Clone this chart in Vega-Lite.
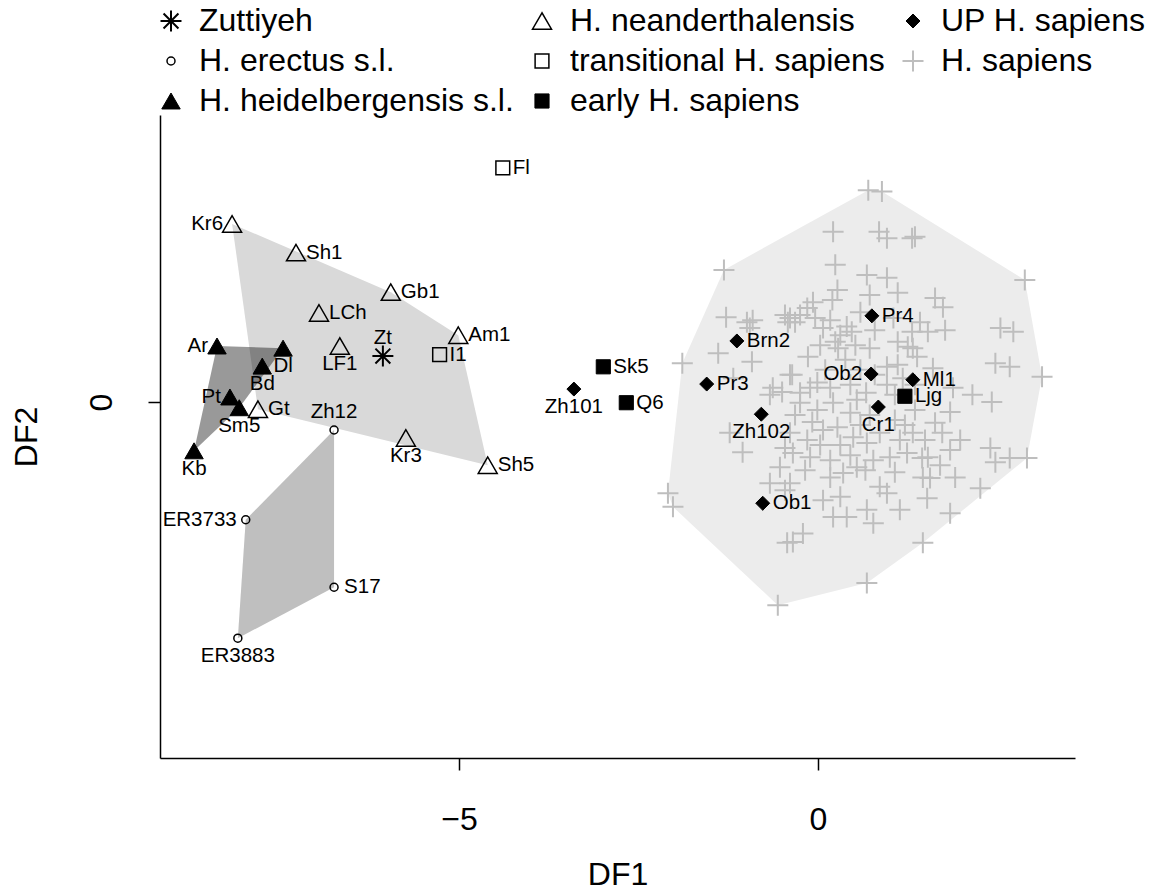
{
  "$schema": "https://vega.github.io/schema/vega-lite/v6.json",
  "width": 915,
  "height": 643,
  "autosize": {"type": "none"},
  "padding": {"left": 160, "top": 115, "right": 81, "bottom": 132},
  "background": "white",
  "config": {
    "view": {"stroke": null},
    "font": "Liberation Sans",
    "axis": {
      "grid": false,
      "domainColor": "black",
      "tickColor": "black",
      "domainWidth": 1.5,
      "tickWidth": 1.5,
      "tickSize": 12,
      "labelColor": "black",
      "titleColor": "black",
      "labelFont": "Liberation Sans",
      "titleFont": "Liberation Sans",
      "labelFontSize": 32,
      "titleFontSize": 32,
      "titleFontWeight": "normal"
    }
  },
  "datasets": {
    "hulls": [
      {"hull": "sap", "v": 1, "df1": -1.31, "df2": 1.84},
      {"hull": "sap", "v": 2, "df1": 0.70, "df2": 2.95},
      {"hull": "sap", "v": 3, "df1": 0.89, "df2": 2.93},
      {"hull": "sap", "v": 4, "df1": 2.88, "df2": 1.70},
      {"hull": "sap", "v": 5, "df1": 3.12, "df2": 0.35},
      {"hull": "sap", "v": 6, "df1": 2.91, "df2": -0.78},
      {"hull": "sap", "v": 7, "df1": 1.46, "df2": -1.96},
      {"hull": "sap", "v": 8, "df1": 0.68, "df2": -2.52},
      {"hull": "sap", "v": 9, "df1": -0.56, "df2": -2.83},
      {"hull": "sap", "v": 10, "df1": -2.02, "df2": -1.46},
      {"hull": "sap", "v": 11, "df1": -2.09, "df2": -1.27},
      {"hull": "sap", "v": 12, "df1": -1.89, "df2": 0.54},
      {"hull": "nean", "v": 1, "df1": -8.16, "df2": 2.48},
      {"hull": "nean", "v": 2, "df1": -5.95, "df2": 1.53},
      {"hull": "nean", "v": 3, "df1": -5.01, "df2": 0.93},
      {"hull": "nean", "v": 4, "df1": -4.60, "df2": -0.88},
      {"hull": "nean", "v": 5, "df1": -7.80, "df2": -0.10},
      {"hull": "erec", "v": 1, "df1": -6.74, "df2": -0.39},
      {"hull": "erec", "v": 2, "df1": -6.74, "df2": -2.58},
      {"hull": "erec", "v": 3, "df1": -8.08, "df2": -3.29},
      {"hull": "erec", "v": 4, "df1": -7.97, "df2": -1.64},
      {"hull": "heid", "v": 1, "df1": -8.37, "df2": 0.78},
      {"hull": "heid", "v": 2, "df1": -7.45, "df2": 0.75},
      {"hull": "heid", "v": 3, "df1": -8.06, "df2": -0.08},
      {"hull": "heid", "v": 4, "df1": -8.69, "df2": -0.68}
    ],
    "specimens": [
      {"group": "H. sapiens", "df1": -1.31, "df2": 1.84},
      {"group": "H. sapiens", "df1": -1.28, "df2": 1.18},
      {"group": "H. sapiens", "df1": -0.99, "df2": 1.11},
      {"group": "H. sapiens", "df1": -0.91, "df2": 1.14},
      {"group": "H. sapiens", "df1": -0.95, "df2": 1.03},
      {"group": "H. sapiens", "df1": -0.46, "df2": 1.21},
      {"group": "H. sapiens", "df1": -0.42, "df2": 1.11},
      {"group": "H. sapiens", "df1": -1.39, "df2": 0.68},
      {"group": "H. sapiens", "df1": -0.92, "df2": 0.56},
      {"group": "H. sapiens", "df1": -1.89, "df2": 0.54},
      {"group": "H. sapiens", "df1": -1.18, "df2": 0.33},
      {"group": "H. sapiens", "df1": -0.63, "df2": 0.20},
      {"group": "H. sapiens", "df1": -0.50, "df2": 0.14},
      {"group": "H. sapiens", "df1": -0.39, "df2": 0.38},
      {"group": "H. sapiens", "df1": 0.70, "df2": 2.95},
      {"group": "H. sapiens", "df1": 0.89, "df2": 2.93},
      {"group": "H. sapiens", "df1": 0.21, "df2": 2.37},
      {"group": "H. sapiens", "df1": 0.85, "df2": 2.37},
      {"group": "H. sapiens", "df1": 0.96, "df2": 2.28},
      {"group": "H. sapiens", "df1": 1.31, "df2": 2.28},
      {"group": "H. sapiens", "df1": 0.24, "df2": 1.91},
      {"group": "H. sapiens", "df1": 0.68, "df2": 1.77},
      {"group": "H. sapiens", "df1": 0.96, "df2": 1.73},
      {"group": "H. sapiens", "df1": 1.11, "df2": 1.52},
      {"group": "H. sapiens", "df1": 0.27, "df2": 1.56},
      {"group": "H. sapiens", "df1": 0.20, "df2": 1.42},
      {"group": "H. sapiens", "df1": 0.72, "df2": 1.49},
      {"group": "H. sapiens", "df1": -0.07, "df2": 1.39},
      {"group": "H. sapiens", "df1": -0.15, "df2": 1.31},
      {"group": "H. sapiens", "df1": -0.39, "df2": 1.17},
      {"group": "H. sapiens", "df1": -0.25, "df2": 1.21},
      {"group": "H. sapiens", "df1": 0.59, "df2": 1.25},
      {"group": "H. sapiens", "df1": 0.40, "df2": 1.05},
      {"group": "H. sapiens", "df1": 0.47, "df2": 0.98},
      {"group": "H. sapiens", "df1": 0.07, "df2": 1.03},
      {"group": "H. sapiens", "df1": 0.24, "df2": 0.84},
      {"group": "H. sapiens", "df1": 0.28, "df2": 0.75},
      {"group": "H. sapiens", "df1": 0.72, "df2": 0.75},
      {"group": "H. sapiens", "df1": 1.11, "df2": 0.84},
      {"group": "H. sapiens", "df1": 1.25, "df2": 0.77},
      {"group": "H. sapiens", "df1": 1.31, "df2": 0.98},
      {"group": "H. sapiens", "df1": -0.14, "df2": 0.63},
      {"group": "H. sapiens", "df1": -0.36, "df2": 0.38},
      {"group": "H. sapiens", "df1": 0.96, "df2": 0.49},
      {"group": "H. sapiens", "df1": 1.11, "df2": 0.52},
      {"group": "H. sapiens", "df1": -0.01, "df2": 0.27},
      {"group": "H. sapiens", "df1": -0.11, "df2": 0.20},
      {"group": "H. sapiens", "df1": -0.25, "df2": 0.13},
      {"group": "H. sapiens", "df1": 0.17, "df2": 0.20},
      {"group": "H. sapiens", "df1": 0.96, "df2": 0.24},
      {"group": "H. sapiens", "df1": -0.32, "df2": 1.11},
      {"group": "H. sapiens", "df1": -0.04, "df2": 1.17},
      {"group": "H. sapiens", "df1": 0.17, "df2": 1.14},
      {"group": "H. sapiens", "df1": 0.31, "df2": 0.93},
      {"group": "H. sapiens", "df1": 0.52, "df2": 0.79},
      {"group": "H. sapiens", "df1": 0.79, "df2": 1.00},
      {"group": "H. sapiens", "df1": 1.05, "df2": 1.17},
      {"group": "H. sapiens", "df1": 0.03, "df2": 0.79},
      {"group": "H. sapiens", "df1": 0.38, "df2": 0.59},
      {"group": "H. sapiens", "df1": 0.59, "df2": 0.45},
      {"group": "H. sapiens", "df1": 0.79, "df2": 0.38},
      {"group": "H. sapiens", "df1": 1.18, "df2": 0.33},
      {"group": "H. sapiens", "df1": 1.35, "df2": 0.24},
      {"group": "H. sapiens", "df1": 0.10, "df2": 0.45},
      {"group": "H. sapiens", "df1": 0.45, "df2": 0.24},
      {"group": "H. sapiens", "df1": 0.67, "df2": 0.13},
      {"group": "H. sapiens", "df1": 1.07, "df2": 0.10},
      {"group": "H. sapiens", "df1": 1.35, "df2": 2.30},
      {"group": "H. sapiens", "df1": 2.88, "df2": 1.70},
      {"group": "H. sapiens", "df1": 1.63, "df2": 1.45},
      {"group": "H. sapiens", "df1": 1.74, "df2": 1.32},
      {"group": "H. sapiens", "df1": 1.42, "df2": 1.11},
      {"group": "H. sapiens", "df1": 1.53, "df2": 0.98},
      {"group": "H. sapiens", "df1": 1.77, "df2": 1.00},
      {"group": "H. sapiens", "df1": 2.54, "df2": 1.03},
      {"group": "H. sapiens", "df1": 2.72, "df2": 0.98},
      {"group": "H. sapiens", "df1": 2.47, "df2": 0.54},
      {"group": "H. sapiens", "df1": 2.67, "df2": 0.49},
      {"group": "H. sapiens", "df1": 3.12, "df2": 0.35},
      {"group": "H. sapiens", "df1": 1.32, "df2": 0.75},
      {"group": "H. sapiens", "df1": 1.38, "df2": 0.63},
      {"group": "H. sapiens", "df1": 1.60, "df2": 0.47},
      {"group": "H. sapiens", "df1": 1.88, "df2": 0.20},
      {"group": "H. sapiens", "df1": 2.15, "df2": 0.10},
      {"group": "H. sapiens", "df1": -2.09, "df2": -1.27},
      {"group": "H. sapiens", "df1": -2.02, "df2": -1.46},
      {"group": "H. sapiens", "df1": -0.56, "df2": -2.83},
      {"group": "H. sapiens", "df1": -1.23, "df2": -0.43},
      {"group": "H. sapiens", "df1": -1.05, "df2": -0.70},
      {"group": "H. sapiens", "df1": -0.67, "df2": -1.13},
      {"group": "H. sapiens", "df1": -0.46, "df2": -1.23},
      {"group": "H. sapiens", "df1": -0.53, "df2": -0.91},
      {"group": "H. sapiens", "df1": -0.46, "df2": -0.64},
      {"group": "H. sapiens", "df1": -0.43, "df2": -1.96},
      {"group": "H. sapiens", "df1": -0.67, "df2": 0.10},
      {"group": "H. sapiens", "df1": -0.25, "df2": -0.01},
      {"group": "H. sapiens", "df1": -0.01, "df2": -0.11},
      {"group": "H. sapiens", "df1": 0.21, "df2": -0.01},
      {"group": "H. sapiens", "df1": 0.54, "df2": 0.03},
      {"group": "H. sapiens", "df1": 0.45, "df2": -0.15},
      {"group": "H. sapiens", "df1": -0.39, "df2": -0.43},
      {"group": "H. sapiens", "df1": -0.15, "df2": -0.53},
      {"group": "H. sapiens", "df1": 0.07, "df2": -0.39},
      {"group": "H. sapiens", "df1": 0.27, "df2": -0.35},
      {"group": "H. sapiens", "df1": 0.49, "df2": -0.49},
      {"group": "H. sapiens", "df1": 0.68, "df2": -0.57},
      {"group": "H. sapiens", "df1": 0.86, "df2": -0.43},
      {"group": "H. sapiens", "df1": -0.35, "df2": -0.71},
      {"group": "H. sapiens", "df1": -0.11, "df2": -0.77},
      {"group": "H. sapiens", "df1": 0.17, "df2": -0.81},
      {"group": "H. sapiens", "df1": 0.35, "df2": -0.99},
      {"group": "H. sapiens", "df1": 0.54, "df2": -0.91},
      {"group": "H. sapiens", "df1": 0.77, "df2": -0.81},
      {"group": "H. sapiens", "df1": 1.00, "df2": -0.77},
      {"group": "H. sapiens", "df1": 1.24, "df2": -0.71},
      {"group": "H. sapiens", "df1": -0.39, "df2": -1.13},
      {"group": "H. sapiens", "df1": 0.17, "df2": -1.05},
      {"group": "H. sapiens", "df1": 0.86, "df2": -1.18},
      {"group": "H. sapiens", "df1": 0.96, "df2": -1.27},
      {"group": "H. sapiens", "df1": 0.07, "df2": -1.37},
      {"group": "H. sapiens", "df1": 0.31, "df2": -1.32},
      {"group": "H. sapiens", "df1": 0.21, "df2": -1.60},
      {"group": "H. sapiens", "df1": 0.40, "df2": -1.60},
      {"group": "H. sapiens", "df1": 0.68, "df2": -1.50},
      {"group": "H. sapiens", "df1": 0.77, "df2": -1.69},
      {"group": "H. sapiens", "df1": 1.14, "df2": -1.50},
      {"group": "H. sapiens", "df1": -0.35, "df2": -1.95},
      {"group": "H. sapiens", "df1": -0.21, "df2": -1.83},
      {"group": "H. sapiens", "df1": 0.68, "df2": -2.52},
      {"group": "H. sapiens", "df1": -0.32, "df2": -0.18},
      {"group": "H. sapiens", "df1": -0.08, "df2": -0.28},
      {"group": "H. sapiens", "df1": 0.31, "df2": -0.60},
      {"group": "H. sapiens", "df1": 0.59, "df2": -0.32},
      {"group": "H. sapiens", "df1": 0.72, "df2": -0.18},
      {"group": "H. sapiens", "df1": 1.07, "df2": -0.25},
      {"group": "H. sapiens", "df1": 1.14, "df2": -0.53},
      {"group": "H. sapiens", "df1": 0.03, "df2": -0.60},
      {"group": "H. sapiens", "df1": 0.45, "df2": -0.74},
      {"group": "H. sapiens", "df1": 0.66, "df2": -0.95},
      {"group": "H. sapiens", "df1": -0.18, "df2": -0.95},
      {"group": "H. sapiens", "df1": 1.07, "df2": -0.98},
      {"group": "H. sapiens", "df1": 1.21, "df2": -0.32},
      {"group": "H. sapiens", "df1": 2.42, "df2": 0.00},
      {"group": "H. sapiens", "df1": 1.84, "df2": -0.14},
      {"group": "H. sapiens", "df1": 1.32, "df2": -0.43},
      {"group": "H. sapiens", "df1": 1.63, "df2": -0.29},
      {"group": "H. sapiens", "df1": 1.73, "df2": -0.43},
      {"group": "H. sapiens", "df1": 1.84, "df2": -0.67},
      {"group": "H. sapiens", "df1": 2.40, "df2": -0.64},
      {"group": "H. sapiens", "df1": 2.47, "df2": -0.84},
      {"group": "H. sapiens", "df1": 2.67, "df2": -0.78},
      {"group": "H. sapiens", "df1": 2.91, "df2": -0.78},
      {"group": "H. sapiens", "df1": 1.45, "df2": -0.78},
      {"group": "H. sapiens", "df1": 1.53, "df2": -0.77},
      {"group": "H. sapiens", "df1": 1.46, "df2": -1.05},
      {"group": "H. sapiens", "df1": 1.56, "df2": -1.06},
      {"group": "H. sapiens", "df1": 1.91, "df2": -1.05},
      {"group": "H. sapiens", "df1": 2.26, "df2": -1.20},
      {"group": "H. sapiens", "df1": 1.52, "df2": -1.34},
      {"group": "H. sapiens", "df1": 1.84, "df2": -1.55},
      {"group": "H. sapiens", "df1": 1.46, "df2": -1.96},
      {"group": "H. sapiens", "df1": 1.35, "df2": -0.11},
      {"group": "H. sapiens", "df1": 1.49, "df2": -0.53},
      {"group": "H. sapiens", "df1": 1.98, "df2": -0.53},
      {"group": "H. sapiens", "df1": 1.70, "df2": -0.88},
      {"name": "Zt", "group": "Zuttiyeh", "df1": -6.06, "df2": 0.64},
      {"name": "Zh12", "group": "H. erectus s.l.", "df1": -6.74, "df2": -0.39},
      {"name": "ER3733", "group": "H. erectus s.l.", "df1": -7.97, "df2": -1.64},
      {"name": "ER3883", "group": "H. erectus s.l.", "df1": -8.08, "df2": -3.29},
      {"name": "S17", "group": "H. erectus s.l.", "df1": -6.74, "df2": -2.58},
      {"name": "Ar", "group": "H. heidelbergensis s.l.", "df1": -8.37, "df2": 0.78},
      {"name": "Dl", "group": "H. heidelbergensis s.l.", "df1": -7.45, "df2": 0.75},
      {"name": "Bd", "group": "H. heidelbergensis s.l.", "df1": -7.74, "df2": 0.50},
      {"name": "Pt", "group": "H. heidelbergensis s.l.", "df1": -8.19, "df2": 0.07},
      {"name": "Sm5", "group": "H. heidelbergensis s.l.", "df1": -8.06, "df2": -0.08},
      {"name": "Kb", "group": "H. heidelbergensis s.l.", "df1": -8.69, "df2": -0.68},
      {"name": "Kr6", "group": "H. neanderthalensis", "df1": -8.16, "df2": 2.48},
      {"name": "Sh1", "group": "H. neanderthalensis", "df1": -7.27, "df2": 2.08},
      {"name": "Gb1", "group": "H. neanderthalensis", "df1": -5.95, "df2": 1.53},
      {"name": "LCh", "group": "H. neanderthalensis", "df1": -6.95, "df2": 1.24},
      {"name": "LF1", "group": "H. neanderthalensis", "df1": -6.66, "df2": 0.78},
      {"name": "Am1", "group": "H. neanderthalensis", "df1": -5.01, "df2": 0.93},
      {"name": "Gt", "group": "H. neanderthalensis", "df1": -7.80, "df2": -0.10},
      {"name": "Kr3", "group": "H. neanderthalensis", "df1": -5.74, "df2": -0.50},
      {"name": "Sh5", "group": "H. neanderthalensis", "df1": -4.60, "df2": -0.88},
      {"name": "Fl", "group": "transitional H. sapiens", "df1": -4.39, "df2": 3.26},
      {"name": "I1", "group": "transitional H. sapiens", "df1": -5.27, "df2": 0.66},
      {"name": "Sk5", "group": "early H. sapiens", "df1": -2.99, "df2": 0.49},
      {"name": "Q6", "group": "early H. sapiens", "df1": -2.67, "df2": -0.01},
      {"name": "Ljg", "group": "early H. sapiens", "df1": 1.21, "df2": 0.08},
      {"name": "Zh101", "group": "UP H. sapiens", "df1": -3.40, "df2": 0.18},
      {"name": "Brn2", "group": "UP H. sapiens", "df1": -1.13, "df2": 0.85},
      {"name": "Pr3", "group": "UP H. sapiens", "df1": -1.55, "df2": 0.25},
      {"name": "Pr4", "group": "UP H. sapiens", "df1": 0.75, "df2": 1.20},
      {"name": "Ob2", "group": "UP H. sapiens", "df1": 0.74, "df2": 0.39},
      {"name": "Ml1", "group": "UP H. sapiens", "df1": 1.32, "df2": 0.31},
      {"name": "Cr1", "group": "UP H. sapiens", "df1": 0.84, "df2": -0.07},
      {"name": "Zh102", "group": "UP H. sapiens", "df1": -0.79, "df2": -0.17},
      {"name": "Ob1", "group": "UP H. sapiens", "df1": -0.77, "df2": -1.41}
    ]
  },
  "encoding": {
    "x": {
      "field": "df1",
      "type": "quantitative",
      "scale": {"domain": [-9.164, 3.579], "nice": false, "zero": false},
      "axis": {"values": [-5, 0], "title": "DF1", "labelPadding": 34, "titlePadding": 24, "labelFlush": false}
    },
    "y": {
      "field": "df2",
      "type": "quantitative",
      "scale": {"domain": [-4.958, 3.997], "nice": false, "zero": false},
      "axis": {"values": [0], "title": "DF2", "labelAngle": 270, "labelAlign": "center", "labelBaseline": "bottom", "labelPadding": 30, "titlePadding": 42, "labelFlush": false}
    }
  },
  "layer": [
    {
      "data": {"name": "hulls"},
      "transform": [{"filter": "datum.hull === 'sap'"}],
      "mark": {"type": "line", "interpolate": "linear-closed", "strokeWidth": 0, "fill": "#ececec"},
      "encoding": {"order": {"field": "v", "type": "quantitative"}}
    },
    {
      "data": {"name": "hulls"},
      "transform": [{"filter": "datum.hull === 'nean'"}],
      "mark": {"type": "line", "interpolate": "linear-closed", "strokeWidth": 0, "fill": "#d9d9d9"},
      "encoding": {"order": {"field": "v", "type": "quantitative"}}
    },
    {
      "data": {"name": "hulls"},
      "transform": [{"filter": "datum.hull === 'erec'"}],
      "mark": {"type": "line", "interpolate": "linear-closed", "strokeWidth": 0, "fill": "#bfbfbf"},
      "encoding": {"order": {"field": "v", "type": "quantitative"}}
    },
    {
      "data": {"name": "hulls"},
      "transform": [{"filter": "datum.hull === 'heid'"}],
      "mark": {"type": "line", "interpolate": "linear-closed", "strokeWidth": 0, "fill": "#000000", "fillOpacity": 0.4},
      "encoding": {"order": {"field": "v", "type": "quantitative"}}
    },
    {
      "data": {"name": "specimens"},
      "mark": {"type": "point", "opacity": 1, "fillOpacity": 1},
      "encoding": {
        "shape": {
          "field": "group",
          "type": "nominal",
          "scale": {
            "domain": ["Zuttiyeh", "H. erectus s.l.", "H. heidelbergensis s.l.", "H. neanderthalensis", "transitional H. sapiens", "early H. sapiens", "UP H. sapiens", "H. sapiens"],
            "range": ["M-1,0H1M0,-1V1M-0.71,-0.71L0.71,0.71M-0.71,0.71L0.71,-0.71", "circle", "triangle-up", "triangle-up", "square", "square", "diamond", "M-1,0H1M0,-1V1"]
          },
          "legend": {
            "title": null,
            "orient": "none",
            "legendX": -5,
            "legendY": -110,
            "columns": 3,
            "gridAlign": "each",
            "labelFont": "Liberation Sans",
            "labelFontSize": 32,
            "labelColor": "black",
            "labelLimit": 500,
            "labelOffset": 12,
            "columnPadding": 12,
            "rowPadding": 8
          }
        },
        "fill": {
          "field": "group",
          "type": "nominal",
          "scale": {
            "domain": ["Zuttiyeh", "H. erectus s.l.", "H. heidelbergensis s.l.", "H. neanderthalensis", "transitional H. sapiens", "early H. sapiens", "UP H. sapiens", "H. sapiens"],
            "range": ["transparent", "transparent", "black", "transparent", "transparent", "black", "black", "transparent"]
          }
        },
        "stroke": {
          "field": "group",
          "type": "nominal",
          "scale": {
            "domain": ["Zuttiyeh", "H. erectus s.l.", "H. heidelbergensis s.l.", "H. neanderthalensis", "transitional H. sapiens", "early H. sapiens", "UP H. sapiens", "H. sapiens"],
            "range": ["black", "black", "black", "black", "black", "black", "black", "#bebebe"]
          }
        },
        "size": {
          "field": "group",
          "type": "nominal",
          "scale": {
            "type": "ordinal",
            "domain": ["Zuttiyeh", "H. erectus s.l.", "H. heidelbergensis s.l.", "H. neanderthalensis", "transitional H. sapiens", "early H. sapiens", "UP H. sapiens", "H. sapiens"],
            "range": [440, 64, 340, 361, 190, 200, 196, 441]
          }
        },
        "strokeWidth": {
          "field": "group",
          "type": "nominal",
          "scale": {
            "type": "ordinal",
            "domain": ["Zuttiyeh", "H. erectus s.l.", "H. heidelbergensis s.l.", "H. neanderthalensis", "transitional H. sapiens", "early H. sapiens", "UP H. sapiens", "H. sapiens"],
            "range": [2, 1.5, 1, 1.5, 1.5, 1, 1, 2]
          }
        }
      }
    },
    {
      "data": {"name": "specimens"},
      "transform": [{"filter": {"field": "name", "oneOf": ["Sh1", "Gb1", "LCh", "Am1", "Gt", "Sh5", "Fl", "I1", "S17", "Sk5", "Q6", "Brn2", "Pr3", "Pr4", "Ml1", "Ob1", "Ljg"]}}],
      "mark": {"type": "text", "align": "left", "baseline": "middle", "dx": 10, "font": "Liberation Sans", "fontSize": 20.5, "color": "black"},
      "encoding": {"text": {"field": "name"}}
    },
    {
      "data": {"name": "specimens"},
      "transform": [{"filter": {"field": "name", "oneOf": ["Kr6", "Ar", "Pt", "ER3733", "Ob2"]}}],
      "mark": {"type": "text", "align": "right", "baseline": "middle", "dx": -9, "font": "Liberation Sans", "fontSize": 20.5, "color": "black"},
      "encoding": {"text": {"field": "name"}}
    },
    {
      "data": {"name": "specimens"},
      "transform": [{"filter": {"field": "name", "oneOf": ["LF1", "Kr3", "Bd", "Dl", "Sm5", "Kb", "ER3883", "Zh101", "Cr1", "Zh102"]}}],
      "mark": {"type": "text", "align": "center", "baseline": "middle", "dy": 18, "font": "Liberation Sans", "fontSize": 20.5, "color": "black"},
      "encoding": {"text": {"field": "name"}}
    },
    {
      "data": {"name": "specimens"},
      "transform": [{"filter": {"field": "name", "oneOf": ["Zt", "Zh12"]}}],
      "mark": {"type": "text", "align": "center", "baseline": "middle", "dy": -18, "font": "Liberation Sans", "fontSize": 20.5, "color": "black"},
      "encoding": {"text": {"field": "name"}}
    }
  ]
}
